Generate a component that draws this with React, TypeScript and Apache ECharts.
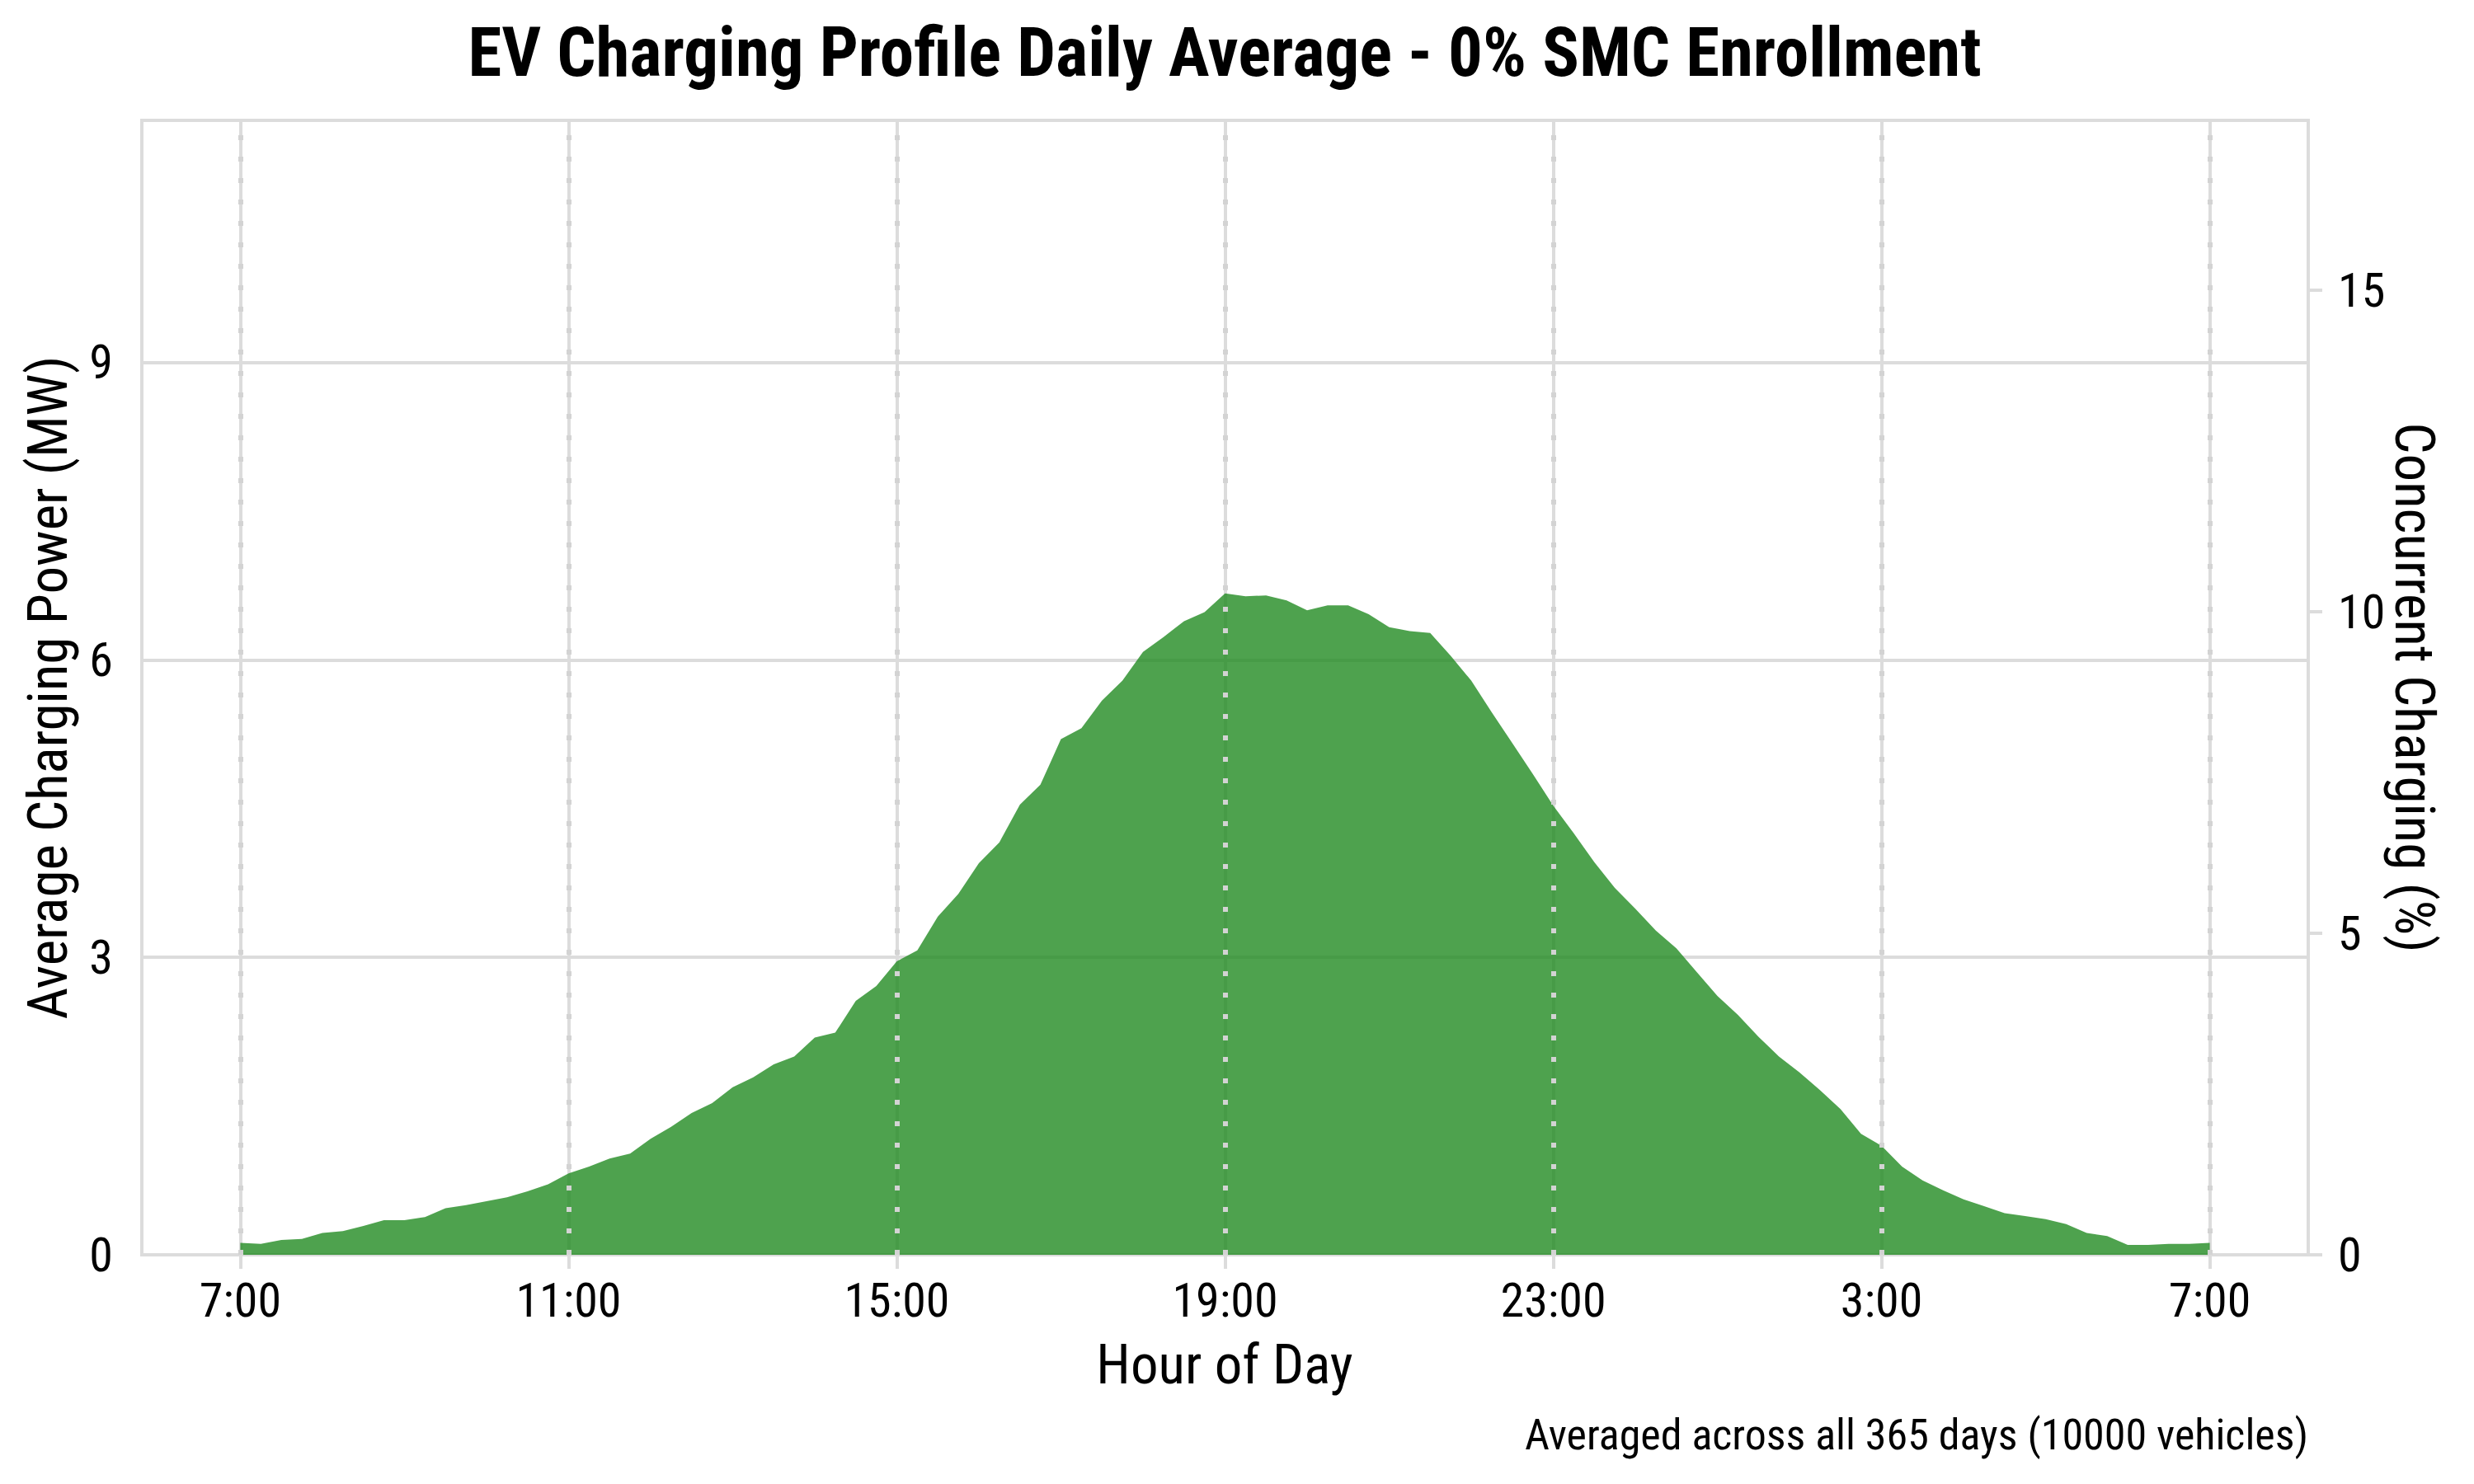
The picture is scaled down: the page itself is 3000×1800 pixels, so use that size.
import React, { useEffect, useRef } from "react";
import * as echarts from "echarts";

// Hours after 07:00 at which ticks sit, and their labels
const hourOffsets = [0, 4, 8, 12, 16, 20, 24];
const hourLabels = ["7:00", "11:00", "15:00", "19:00", "23:00", "3:00", "7:00"];

// 15-minute resolution, starting at 07:00 and ending at 07:00 the next day
const stepHours = 0.25;
const powerMW = [
  0.12, 0.11, 0.15, 0.16, // 7:00
  0.22, 0.24, 0.29, 0.35, // 8:00
  0.35, 0.38, 0.47, 0.50, // 9:00
  0.54, 0.58, 0.64, 0.71, // 10:00
  0.82, 0.89, 0.97, 1.02, // 11:00
  1.17, 1.29, 1.43, 1.53, // 12:00
  1.69, 1.79, 1.92, 2.00, // 13:00
  2.19, 2.24, 2.56, 2.71, // 14:00
  2.96, 3.07, 3.41, 3.64, // 15:00
  3.95, 4.16, 4.54, 4.74, // 16:00
  5.20, 5.31, 5.59, 5.79, // 17:00
  6.08, 6.23, 6.39, 6.48, // 18:00
  6.67, 6.64, 6.65, 6.60, // 19:00
  6.50, 6.55, 6.55, 6.46, // 20:00
  6.33, 6.29, 6.27, 6.04, // 21:00
  5.79, 5.47, 5.16, 4.85, // 22:00
  4.53, 4.25, 3.96, 3.70, // 23:00
  3.49, 3.27, 3.09, 2.85, // 0:00
  2.61, 2.42, 2.20, 2.00, // 1:00
  1.84, 1.66, 1.47, 1.22, // 2:00
  1.10, 0.89, 0.75, 0.65, // 3:00
  0.56, 0.49, 0.42, 0.39, // 4:00
  0.36, 0.31, 0.22, 0.19, // 5:00
  0.10, 0.10, 0.11, 0.11, // 6:00
  0.12, // 7:00
];

const leftTicks = [0, 3, 6, 9];
const rightTicks = [0, 5, 10, 15];
const xRange = [-1.2, 25.2];
const leftMax = 11.44;
const rightMax = 17.64;

const titleText = "EV Charging Profile Daily Average - 0% SMC Enrollment";
const xName = "Hour of Day";
const leftName = "Average Charging Power (MW)";
const rightName = "Concurrent Charging (%)";
const footText = "Averaged across all 365 days (10000 vehicles)";

const FONT =
  "'Roboto Condensed', 'Liberation Sans Narrow', 'Arial Narrow', 'DejaVu Sans Condensed', Roboto, sans-serif";
const GRID_COLOR = "#dcdcdc";

export default function App() {
  const ref = useRef<HTMLDivElement>(null);

  useEffect(() => {
    document.body.style.margin = "0";
    if (!ref.current) return;
    const chart = echarts.init(ref.current, undefined, { renderer: "svg" });

    const tickStyle = { color: GRID_COLOR, width: 4 };
    const labelBase = { fontSize: 58, fontFamily: FONT, color: "#000" };

    const option: any = {
      animation: false,
      grid: {
        left: 172,
        right: 201,
        top: 146,
        bottom: 278,
        show: true,
        borderColor: GRID_COLOR,
        borderWidth: 4,
        outerBoundsMode: "none",
        containLabel: false,
      },
      xAxis: {
        type: "value",
        min: xRange[0],
        max: xRange[1],
        axisLine: { show: true, onZero: false, lineStyle: tickStyle },
        axisTick: { show: true, customValues: hourOffsets, length: 17, lineStyle: tickStyle },
        axisLabel: {
          ...labelBase,
          customValues: hourOffsets,
          margin: 26,
          formatter: (v: number) => {
            const i = hourOffsets.indexOf(v);
            return i >= 0 ? hourLabels[i] : "";
          },
        },
        splitLine: { show: true, lineStyle: tickStyle },
      },
      yAxis: [
        {
          type: "value",
          position: "left",
          min: 0,
          max: leftMax,
          interval: 3,
          axisLine: { show: true, lineStyle: tickStyle },
          axisTick: { show: true, customValues: leftTicks, length: 17, lineStyle: tickStyle },
          axisLabel: { ...labelBase, customValues: leftTicks, margin: 35 },
          splitLine: { show: true, lineStyle: tickStyle },
        },
        {
          type: "value",
          position: "right",
          min: 0,
          max: rightMax,
          interval: 5,
          axisLine: { show: true, lineStyle: tickStyle },
          axisTick: { show: true, customValues: rightTicks, length: 17, lineStyle: tickStyle },
          axisLabel: { ...labelBase, customValues: rightTicks, margin: 36 },
          splitLine: { show: false },
        },
      ],
      series: [
        {
          type: "line",
          yAxisIndex: 0,
          data: powerMW.map((v, i) => [i * stepHours, v]),
          symbol: "none",
          showSymbol: false,
          lineStyle: { width: 0, opacity: 0 },
          areaStyle: { color: "rgba(34,139,34,0.8)", opacity: 1 },
          emphasis: { disabled: true },
          silent: true,
          z: 2,
          markLine: {
            silent: true,
            symbol: ["none", "none"],
            label: { show: false },
            emphasis: { disabled: true },
            lineStyle: { color: "#d3d3d3", width: 6, type: [6, 20], opacity: 1 },
            data: hourOffsets.map((h) => [{ coord: [h, 0] }, { coord: [h, leftMax] }]),
          },
        },
      ],
      graphic: [
        {
          type: "text",
          x: 1485,
          y: 63,
          style: {
            text: titleText,
            fontSize: 83,
            fontWeight: "bold",
            fontFamily: FONT,
            fill: "#000",
            align: "center",
            verticalAlign: "middle",
          },
        },
        {
          type: "text",
          x: 1485,
          y: 1655,
          style: {
            text: xName,
            fontSize: 67,
            fontFamily: FONT,
            fill: "#000",
            align: "center",
            verticalAlign: "middle",
          },
        },
        {
          type: "text",
          x: 58,
          y: 834,
          rotation: Math.PI / 2,
          style: {
            text: leftName,
            fontSize: 67,
            fontFamily: FONT,
            fill: "#000",
            align: "center",
            verticalAlign: "middle",
          },
        },
        {
          type: "text",
          x: 2928,
          y: 834,
          rotation: -Math.PI / 2,
          style: {
            text: rightName,
            fontSize: 67,
            fontFamily: FONT,
            fill: "#000",
            align: "center",
            verticalAlign: "middle",
          },
        },
        {
          type: "text",
          x: 2799,
          y: 1740,
          style: {
            text: footText,
            fontSize: 52,
            fontFamily: FONT,
            fill: "#000",
            align: "right",
            verticalAlign: "middle",
          },
        },
      ],
    };

    chart.setOption(option);
    return () => chart.dispose();
  }, []);

  return <div ref={ref} style={{ width: 3000, height: 1800 }} />;
}
